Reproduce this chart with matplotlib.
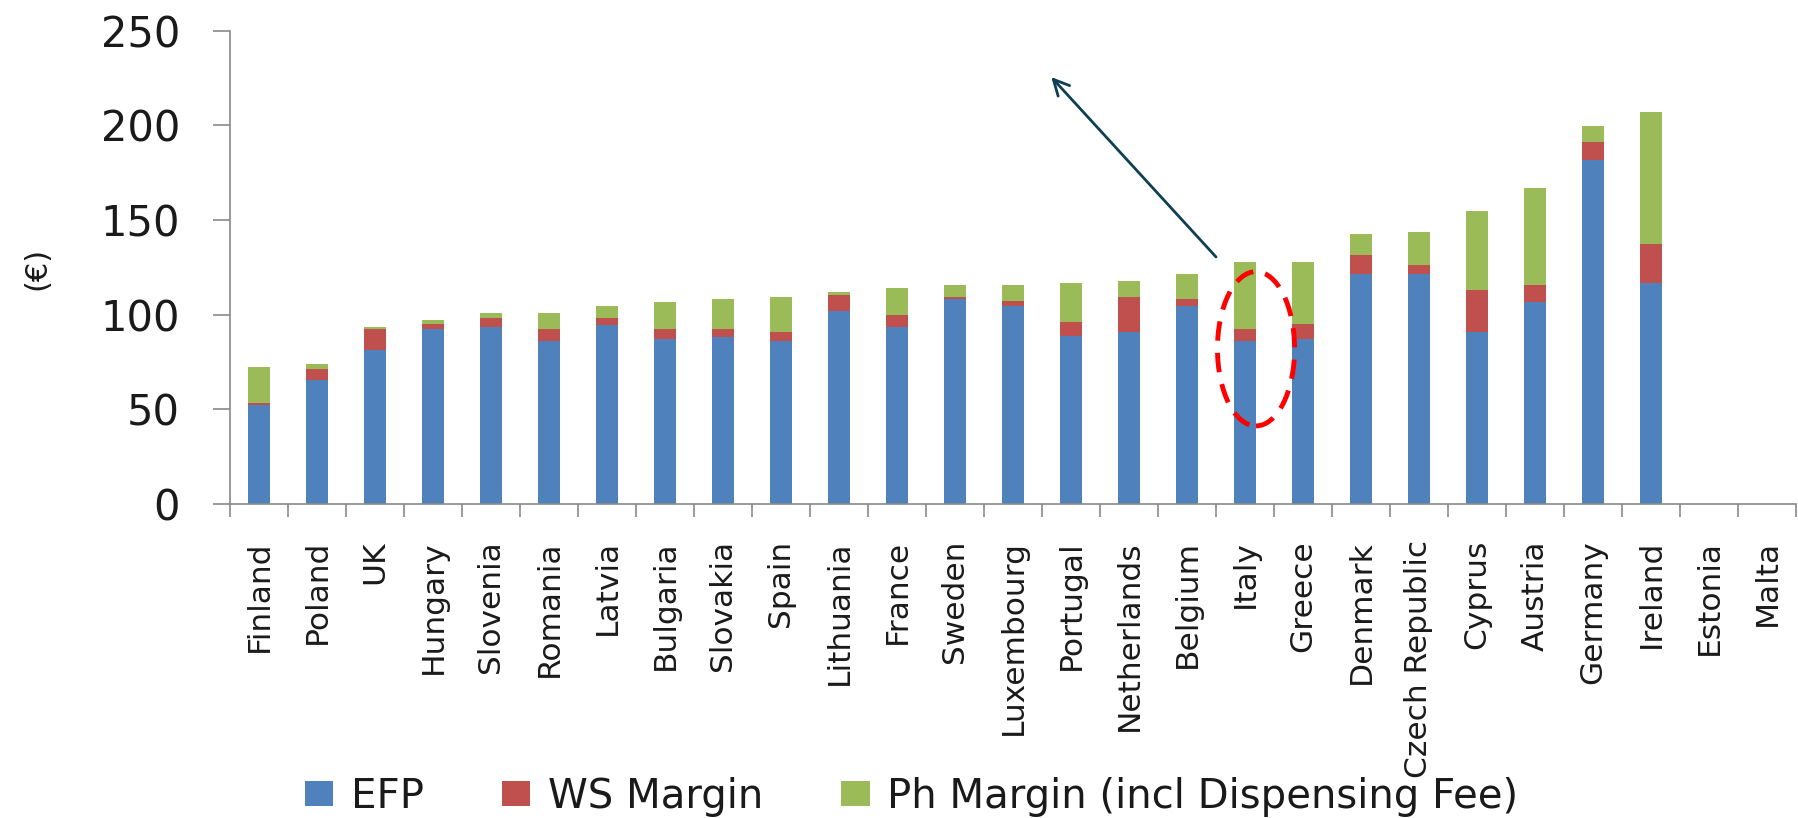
import matplotlib
matplotlib.use("Agg")
import matplotlib.pyplot as plt
import numpy as np
from matplotlib.patches import Ellipse

# Dane (EUR)
kraje = ["Finland", "Poland", "UK", "Hungary", "Slovenia", "Romania", "Latvia",
         "Bulgaria", "Slovakia", "Spain", "Lithuania", "France", "Sweden",
         "Luxembourg", "Portugal", "Netherlands", "Belgium", "Italy", "Greece",
         "Denmark", "Czech Republic", "Cyprus", "Austria", "Germany", "Ireland",
         "Estonia", "Malta"]
efp = [52.1, 65.5, 81.4, 92.3, 93.5, 86.3, 94.7, 87.3, 88.4, 86.1, 102.1, 93.5, 108.3,
       104.6, 88.6, 91.0, 104.6, 86.1, 87.3, 121.7, 121.7, 91.0, 106.9, 181.7, 116.6,
       0, 0]
ws_marza = [1.1, 6.0, 10.9, 2.6, 4.9, 6.0, 3.7, 5.0, 3.9, 4.9, 8.5, 6.2, 1.2,
            2.5, 7.4, 18.5, 3.7, 6.2, 7.6, 9.7, 4.7, 22.1, 8.6, 9.7, 20.9,
            0, 0]
ph_marza = [19.3, 2.3, 1.0, 2.3, 2.3, 8.4, 6.2, 14.6, 15.8, 18.5, 1.2, 14.6, 6.0,
            8.4, 20.7, 8.5, 13.4, 35.4, 32.8, 11.1, 17.3, 41.5, 51.3, 8.4, 69.7,
            0, 0]
serie = ["EFP", "WS Margin", "Ph Margin (incl Dispensing Fee)"]
y_ticki = [0, 50, 100, 150, 200, 250]

kolory = ["#4F81BD", "#C0504D", "#9BBB59"]
szary = "#898989"

fig = plt.figure(figsize=(17.99, 8.18), dpi=100)
ax = fig.add_axes([230 / 1799, 1 - 504 / 818, 1566 / 1799, (504 - 30.7) / 818])

x = np.arange(len(kraje))
dol = np.zeros(len(kraje))
for wartosci, nazwa, kolor in zip([efp, ws_marza, ph_marza], serie, kolory):
    ax.bar(x, wartosci, width=0.39, bottom=dol, color=kolor, label=nazwa)
    dol = dol + np.array(wartosci)

ax.set_xlim(-0.5, len(kraje) - 0.5)
ax.set_ylim(0, 250)
ax.set_yticks(y_ticki)
ax.set_yticklabels([str(v) for v in y_ticki], fontsize=30, color="#1a1a1a")
ax.tick_params(axis="y", length=12, width=1.2, color=szary, pad=24)

# etykiety krajow bez kresek, kreski na granicach kategorii
ax.set_xticks(x)
ax.set_xticklabels(kraje, rotation=90, fontsize=22.5, color="#1a1a1a")
ax.tick_params(axis="x", which="major", length=0, pad=26)
ax.set_xticks(np.arange(-0.5, len(kraje), 1.0), minor=True)
ax.tick_params(axis="x", which="minor", length=9, width=1.2, color=szary)

for strona in ["top", "right"]:
    ax.spines[strona].set_visible(False)
for strona in ["left", "bottom"]:
    ax.spines[strona].set_color(szary)
    ax.spines[strona].set_linewidth(1.2)

fig.text(37 / 1799, 1 - 268 / 818, "(€)", rotation=90, fontsize=22,
         ha="center", va="center", color="#1a1a1a")

# strzalka i elipsa przy Wloszech
ax.annotate("", xy=(13.66, 225.5), xytext=(16.5, 130.5),
            arrowprops=dict(arrowstyle="->", color="#0F3F52", lw=2,
                            mutation_scale=28, shrinkA=0, shrinkB=0))
ax.add_patch(Ellipse((17.19, 82.0), 1.33, 81.5, fill=False, edgecolor="#FF0000",
                     lw=3.5, linestyle=(0, (4, 2.5)), zorder=5))

leg = ax.legend(loc="center left", bbox_to_anchor=(305 / 1799, 21 / 818),
                bbox_transform=fig.transFigure, ncol=3, frameon=False,
                fontsize=29, handlelength=0.7, handleheight=0.58,
                handletextpad=0.43, columnspacing=1.95, borderpad=0,
                borderaxespad=0)
for t in leg.get_texts():
    t.set_color("#1a1a1a")

fig.savefig("out.png", dpi=100)
